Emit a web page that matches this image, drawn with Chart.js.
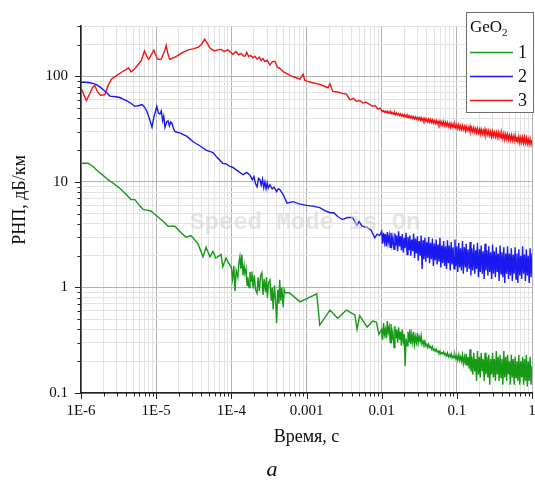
<!DOCTYPE html>
<html lang="ru">
<head>
<meta charset="UTF-8">
<title>РНП GeO2</title>
<script src="https://cdn.jsdelivr.net/npm/chart.js@4.4.0/dist/chart.umd.min.js"></script>
<style>
  html, body { margin: 0; padding: 0; background: #fff; }
  #wrap { position: relative; width: 535px; height: 486px; }
</style>
</head>
<body>
<div id="wrap"><canvas id="chart" width="535" height="486"></canvas></div>
<script>
// Время, с — две перемежающиеся сетки для шумных "хвостов" (0.01 ... 1 с):
// в точках tailTimes берутся верхние выбросы, в tailTimesMid — нижние
const tailTimes = [
  0.0100, 0.0106, 0.0112, 0.0119, 0.0126, 0.0133, 0.0141, 0.0150, 0.0158, 0.0168,
  0.0178, 0.0188, 0.0200, 0.0211, 0.0224, 0.0237, 0.0251, 0.0266, 0.0282, 0.0299,
  0.0316, 0.0335, 0.0355, 0.0376, 0.0398, 0.0422, 0.0447, 0.0473, 0.0501, 0.0531,
  0.0562, 0.0596, 0.0631, 0.0668, 0.0708, 0.0750, 0.0794, 0.0841, 0.0891, 0.0944,
  0.100, 0.106, 0.112, 0.119, 0.126, 0.133, 0.141, 0.150, 0.158, 0.168,
  0.178, 0.188, 0.200, 0.211, 0.224, 0.237, 0.251, 0.266, 0.282, 0.299,
  0.316, 0.335, 0.355, 0.376, 0.398, 0.422, 0.447, 0.473, 0.501, 0.531,
  0.562, 0.596, 0.631, 0.668, 0.708, 0.750, 0.794, 0.841, 0.891, 0.944,
  1.00
];
const tailTimesMid = [
  0.0103, 0.0109, 0.0115, 0.0122, 0.0130, 0.0137, 0.0146, 0.0154, 0.0163, 0.0173,
  0.0183, 0.0194, 0.0205, 0.0218, 0.0231, 0.0244, 0.0259, 0.0274, 0.0290, 0.0307,
  0.0326, 0.0345, 0.0365, 0.0387, 0.0410, 0.0434, 0.0460, 0.0487, 0.0516, 0.0547,
  0.0579, 0.0613, 0.0649, 0.0688, 0.0729, 0.0772, 0.0818, 0.0866, 0.0917, 0.0972,
  0.103, 0.109, 0.115, 0.122, 0.130, 0.137, 0.146, 0.154, 0.163, 0.173,
  0.183, 0.194, 0.205, 0.218, 0.231, 0.244, 0.259, 0.274, 0.290, 0.307,
  0.326, 0.345, 0.365, 0.387, 0.410, 0.434, 0.460, 0.487, 0.516, 0.547,
  0.579, 0.613, 0.649, 0.688, 0.729, 0.772, 0.818, 0.866, 0.917, 0.972
];

// Кривая 1 (зелёная), до 0.01 с
const greenTimes = [
  1.0e-6, 1.24e-6, 1.45e-6, 1.68e-6, 1.95e-6, 2.29e-6, 2.8e-6, 3.4e-6, 4.0e-6, 4.6e-6,
  5.2e-6, 6.1e-6, 6.7e-6, 7.5e-6, 8.5e-6, 1.0e-5, 1.16e-5, 1.3e-5, 1.44e-5, 1.6e-5,
  1.78e-5, 2.14e-5, 2.5e-5, 2.9e-5, 3.6e-5, 4.2e-5, 4.6e-5, 5.2e-5, 5.7e-5, 6.2e-5,
  7.3e-5, 7.7e-5, 8.5e-5, 9.2e-5,
  1.00e-4, 1.04e-4, 1.08e-4, 1.12e-4, 1.16e-4, 1.22e-4, 1.26e-4, 1.30e-4, 1.34e-4, 1.38e-4,
  1.43e-4, 1.48e-4, 1.52e-4, 1.57e-4, 1.62e-4, 1.66e-4, 1.72e-4, 1.77e-4, 1.83e-4, 1.88e-4,
  1.95e-4, 2.02e-4, 2.10e-4, 2.20e-4, 2.27e-4, 2.36e-4, 2.45e-4, 2.55e-4, 2.64e-4, 2.73e-4,
  2.85e-4, 2.93e-4, 3.02e-4, 3.12e-4, 3.26e-4, 3.40e-4, 3.50e-4, 3.60e-4, 3.75e-4, 3.90e-4,
  4.00e-4, 4.15e-4, 4.30e-4, 4.40e-4, 4.55e-4, 4.70e-4, 4.90e-4, 5.05e-4, 5.20e-4,
  5.9e-4, 8.2e-4, 1.37e-3, 1.5e-3, 2.05e-3, 2.6e-3, 3.4e-3, 4.4e-3, 4.7e-3, 5.1e-3,
  6.4e-3, 7.6e-3, 8.5e-3, 9.2e-3
];
const greenValues = [
  15, 15, 14, 12.6, 11.6, 10.5, 9.5, 8.5, 7.6, 6.8,
  6.8, 5.9, 5.5, 5.4, 5.3, 4.8, 4.4, 4.1, 3.8, 3.8,
  3.8, 3.3, 3.0, 3.1, 2.6, 1.95, 2.4, 1.95, 2.2, 1.9,
  2.05, 1.57, 1.9, 1.7,
  1.55, 1.2, 1.6, 0.92, 1.45, 1.25, 1.7, 1.95, 1.5, 2.05,
  1.3, 1.6, 1.35, 1.5, 1.05, 1.25, 1.0, 1.4, 1.15, 1.42,
  0.98, 1.3, 0.95, 0.88, 1.25, 0.92, 1.3, 1.38, 0.85, 1.2,
  0.9, 1.25, 0.8, 1.1, 1.18, 0.75, 1.0, 0.62, 1.05, 0.7,
  0.46, 0.95, 0.7, 1.18, 0.75, 1.0, 0.65, 0.95, 0.89,
  0.89, 0.73, 0.87, 0.44, 0.61, 0.51, 0.61, 0.55, 0.40, 0.54,
  0.42, 0.48, 0.47, 0.36
];
const greenTailHigh = [
  0.40, 0.46, 0.40, 0.48, 0.42, 0.45, 0.38, 0.43, 0.40, 0.42,
  0.38, 0.40, 0.36, 0.33, 0.38, 0.40, 0.36, 0.38, 0.34, 0.37,
  0.34, 0.35, 0.31, 0.31, 0.29, 0.29, 0.275, 0.275, 0.26, 0.26,
  0.25, 0.25, 0.24, 0.245, 0.235, 0.24, 0.23, 0.235, 0.225, 0.23,
  0.225, 0.23, 0.22, 0.23, 0.22, 0.235, 0.22, 0.26, 0.22, 0.24,
  0.21, 0.25, 0.22, 0.24, 0.21, 0.24, 0.22, 0.23, 0.21, 0.24,
  0.21, 0.25, 0.22, 0.23, 0.21, 0.25, 0.22, 0.23, 0.20, 0.23,
  0.21, 0.22, 0.20, 0.23, 0.20, 0.22, 0.21, 0.23, 0.20, 0.22,
  0.18
];
const greenTailLow = [
  0.32, 0.36, 0.33, 0.37, 0.30, 0.33, 0.27, 0.33, 0.30, 0.32,
  0.28, 0.31, 0.18, 0.28, 0.30, 0.29, 0.30, 0.29, 0.30, 0.30,
  0.31, 0.29, 0.29, 0.28, 0.27, 0.27, 0.26, 0.255, 0.25, 0.245,
  0.24, 0.235, 0.235, 0.23, 0.225, 0.22, 0.22, 0.215, 0.215, 0.21,
  0.205, 0.205, 0.20, 0.19, 0.185, 0.18, 0.17, 0.16, 0.15, 0.16,
  0.13, 0.15, 0.14, 0.16, 0.13, 0.15, 0.14, 0.12, 0.15, 0.14,
  0.13, 0.15, 0.13, 0.14, 0.12, 0.14, 0.13, 0.15, 0.12, 0.14,
  0.12, 0.14, 0.13, 0.12, 0.14, 0.12, 0.13, 0.115, 0.13, 0.12
];

// Кривая 2 (синяя), до 0.01 с
const blueTimes = [
  1.0e-6, 1.15e-6, 1.32e-6, 1.5e-6, 1.63e-6, 1.8e-6, 1.96e-6, 2.2e-6, 2.43e-6, 2.9e-6,
  3.3e-6, 3.8e-6, 4.2e-6, 4.7e-6, 5.2e-6, 5.9e-6, 6.5e-6, 7.0e-6, 7.5e-6, 8.1e-6,
  8.8e-6, 9.4e-6, 1.02e-5, 1.07e-5, 1.12e-5, 1.17e-5, 1.22e-5, 1.26e-5, 1.31e-5, 1.38e-5,
  1.44e-5, 1.5e-5, 1.56e-5, 1.62e-5, 1.7e-5, 1.78e-5, 2.1e-5, 2.57e-5, 3.1e-5, 3.8e-5,
  4.6e-5, 5.7e-5, 6.5e-5, 7.7e-5, 8.5e-5, 9.6e-5,
  1.05e-4, 1.2e-4, 1.43e-4, 1.6e-4, 1.77e-4, 1.9e-4, 2.0e-4, 2.1e-4, 2.2e-4, 2.3e-4,
  2.4e-4, 2.5e-4, 2.6e-4, 2.7e-4, 2.8e-4, 2.9e-4, 3.0e-4, 3.1e-4, 3.26e-4, 3.5e-4,
  3.7e-4, 4.0e-4, 4.2e-4, 4.4e-4, 4.9e-4, 5.5e-4, 6.6e-4, 8.0e-4, 1.0e-3, 1.2e-3,
  1.5e-3, 1.8e-3, 2.05e-3, 2.3e-3, 2.6e-3, 3.0e-3, 3.5e-3, 4.1e-3, 4.4e-3, 4.7e-3,
  5.0e-3, 5.5e-3, 6.4e-3, 7.2e-3, 8.1e-3, 8.7e-3, 9.4e-3
];
const blueValues = [
  88, 88, 87, 85, 83, 79, 75, 70, 65, 64,
  63, 60, 58, 55, 52, 53, 54, 51, 47, 40,
  33, 42, 52, 45, 44, 47, 38, 42, 33, 37,
  38, 34, 37, 36, 32, 30, 29, 27, 24, 22,
  20, 19, 17, 15, 14.8, 14,
  13.7, 12.8, 11.7, 12.3, 11.6, 10.5, 11.2, 9.6, 9.0, 10.8,
  10.5, 9.3, 10.6, 8.8, 10.0, 8.6, 9.8, 8.7, 9.4, 8.6,
  8.9, 8.1, 8.6, 8.5, 7.6, 6.3, 6.5, 6.2, 6.0, 5.9,
  5.7, 5.3, 5.1, 5.1, 4.7, 4.4, 4.6, 4.6, 4.2, 3.9,
  4.2, 3.8, 3.7, 3.5, 2.95, 3.2, 3.1
];
const blueTailHigh = [
  3.4, 3.3, 3.2, 3.35, 3.1, 3.3, 3.0, 3.25, 3.1, 3.4,
  3.05, 3.2, 2.95, 3.3, 3.0, 3.1, 2.85, 3.25, 2.9, 3.05,
  2.75, 3.1, 2.8, 2.95, 2.7, 3.0, 2.65, 2.9, 2.6, 2.85,
  2.55, 2.95, 2.5, 2.75, 2.45, 2.8, 2.5, 2.7, 2.4, 2.85,
  2.45, 2.65, 2.35, 2.75, 2.4, 2.6, 2.3, 2.7, 2.35, 2.55,
  2.25, 2.65, 2.3, 2.5, 2.2, 2.6, 2.25, 2.45, 2.15, 2.55,
  2.2, 2.4, 2.1, 2.5, 2.15, 2.4, 2.1, 2.45, 2.1, 2.35,
  2.05, 2.4, 2.1, 2.3, 2.0, 2.45, 2.05, 2.3, 2.0, 2.35,
  2.1
];
const blueTailLow = [
  2.6, 2.7, 2.45, 2.65, 2.4, 2.55, 2.3, 2.5, 2.2, 2.45,
  2.25, 2.15, 2.35, 2.05, 2.25, 2.0, 2.2, 1.9, 2.1, 1.8,
  2.0, 1.5, 1.85, 1.75, 1.9, 1.7, 1.85, 1.6, 1.8, 1.65,
  1.75, 1.55, 1.7, 1.6, 1.5, 1.7, 1.45, 1.65, 1.5, 1.6,
  1.4, 1.55, 1.45, 1.35, 1.55, 1.4, 1.5, 1.3, 1.45, 1.35,
  1.5, 1.25, 1.4, 1.35, 1.2, 1.45, 1.3, 1.4, 1.2, 1.35,
  1.25, 1.4, 1.15, 1.35, 1.25, 1.1, 1.35, 1.2, 1.3, 1.15,
  1.35, 1.2, 1.1, 1.3, 1.2, 1.35, 1.15, 1.3, 1.1, 1.25
];

// Кривая 3 (красная), до 0.01 с
const redTimes = [
  1.0e-6, 1.1e-6, 1.18e-6, 1.3e-6, 1.42e-6, 1.52e-6, 1.65e-6, 1.83e-6, 2.07e-6, 2.3e-6,
  2.53e-6, 3.1e-6, 3.5e-6, 3.96e-6, 4.3e-6, 4.66e-6, 5.4e-6, 6.3e-6, 7.0e-6, 7.5e-6,
  7.95e-6, 8.6e-6, 9.3e-6, 1.0e-5, 1.06e-5, 1.17e-5, 1.3e-5, 1.36e-5, 1.43e-5, 1.51e-5,
  1.7e-5, 1.95e-5, 2.3e-5, 2.65e-5, 3.1e-5, 3.6e-5, 4.0e-5, 4.4e-5, 4.8e-5, 5.1e-5,
  5.5e-5, 6.0e-5, 6.6e-5, 7.3e-5, 8.0e-5, 9.0e-5,
  1.05e-4, 1.15e-4, 1.25e-4, 1.35e-4, 1.45e-4, 1.52e-4, 1.6e-4, 1.7e-4, 1.8e-4, 1.94e-4,
  2.05e-4, 2.2e-4, 2.35e-4, 2.5e-4, 2.63e-4, 2.8e-4, 3.0e-4, 3.26e-4, 3.5e-4, 3.8e-4,
  4.1e-4, 4.5e-4, 4.9e-4, 5.5e-4, 6.2e-4, 7.0e-4, 8.2e-4, 9.0e-4, 9.5e-4, 1.01e-3,
  1.2e-3, 1.5e-3, 1.7e-3, 1.93e-3, 2.05e-3, 2.24e-3, 2.6e-3, 3.0e-3, 3.4e-3, 3.8e-3,
  4.2e-3, 4.6e-3, 5.1e-3, 5.6e-3, 6.2e-3, 7.0e-3, 7.6e-3, 8.2e-3, 8.9e-3, 9.5e-3
];
const redValues = [
  78, 66, 59, 68, 78, 82, 72, 66, 67, 82,
  94, 104, 110, 116, 120, 110, 122, 140, 174, 155,
  145, 160, 177, 155, 145, 146, 175, 196, 165, 145,
  150, 158, 170, 178, 182, 188, 200, 225, 205, 188,
  180, 174, 178, 180, 172, 178,
  162, 172, 160, 165, 156, 155, 169, 154, 158, 150,
  155, 146, 152, 141, 148, 138, 142, 128, 137, 139,
  122, 118, 111, 106, 101, 98, 94, 105, 92, 90,
  87, 84, 81, 78, 85, 72, 71, 69, 68, 60,
  62, 58, 59, 56, 57, 54, 52, 53, 49, 50
];
const redTailHigh = [
  47.5, 47.4, 46.8, 46.7, 46.2, 46.0, 45.4, 45.3, 44.7, 44.4,
  44.1, 43.6, 43.4, 43.0, 42.6, 42.4, 41.9, 41.6, 41.3, 40.9,
  40.7, 40.6, 40.0, 40.0, 39.4, 39.4, 38.9, 38.8, 38.3, 38.2,
  37.6, 37.6, 37.0, 37.4, 36.5, 36.4, 35.8, 35.8, 35.3, 35.2,
  34.8, 34.7, 34.1, 34.2, 33.6, 33.6, 33.1, 33.6, 32.6, 32.6,
  31.9, 32.1, 31.5, 31.6, 30.9, 31.5, 30.5, 30.6, 30.0, 30.1,
  29.5, 29.6, 29.5, 29.1, 28.6, 28.7, 28.2, 28.2, 27.7, 27.8,
  27.2, 27.7, 26.8, 26.9, 26.4, 26.5, 26.4, 26.1, 25.5, 25.6,
  25.0
];
const redTailLow = [
  46.3, 45.8, 45.4, 44.9, 44.6, 44.1, 43.8, 43.3, 43.0, 42.5,
  42.1, 41.7, 41.4, 41.0, 40.7, 40.3, 40.0, 39.6, 39.3, 38.9,
  38.4, 38.1, 37.8, 37.4, 37.1, 36.8, 36.5, 36.2, 35.8, 35.5,
  35.1, 34.8, 34.5, 34.2, 33.9, 33.6, 32.9, 33.0, 32.8, 32.5,
  32.0, 31.7, 31.4, 31.2, 30.5, 30.6, 30.4, 30.1, 29.8, 29.6,
  29.2, 29.0, 28.3, 28.5, 28.2, 28.0, 27.7, 27.5, 26.8, 27.0,
  26.7, 26.5, 26.2, 26.0, 25.8, 25.2, 25.3, 25.1, 24.9, 24.7,
  24.4, 24.2, 24.0, 23.4, 23.6, 23.4, 23.2, 23.0, 22.8, 22.6
];

const seriesNames = ['1', '2', '3'];
const seriesColors = ['#169a16', '#1a1af0', '#f01414'];
const legendTitle = 'GeO';
const legendTitleSub = '2';

// подписи осей
const xDecades = [1e-6, 1e-5, 1e-4, 1e-3, 1e-2, 1e-1, 1];
const xTickLabels = ['1E-6', '1E-5', '1E-4', '0.001', '0.01', '0.1', '1'];
const yDecades = [0.1, 1, 10, 100];
const yTickLabels = ['0.1', '1', '10', '100'];
const xTitle = 'Время, с';
const yTitle = 'РНП, дБ/км';
const panelLetter = 'a';
const watermark = 'Speed Mode is On';

function pairs(times, values) {
  const n = Math.min(times.length, values.length);
  const out = [];
  for (let i = 0; i < n; i++) out.push({ x: times[i], y: values[i] });
  return out;
}

// голова кривой + шумный хвост из верхних и нижних выбросов, по порядку времени
function series(times, values, high, low) {
  const tail = pairs(tailTimes, high).concat(pairs(tailTimesMid, low));
  tail.sort((a, b) => a.x - b.x);
  return pairs(times, values).concat(tail);
}

function isDecade(v) {
  const e = Math.log10(v);
  return Math.abs(e - Math.round(e)) < 1e-6;
}

function decadeLabel(v, decades, labels) {
  for (let i = 0; i < decades.length; i++) {
    if (Math.abs(Math.log10(v) - Math.log10(decades[i])) < 1e-6) return labels[i];
  }
  return '';
}

// оставляем только 1..9 × 10^n
function keepIntegerMantissa(scale) {
  scale.ticks = scale.ticks.filter(t => {
    const m = t.value / Math.pow(10, Math.floor(Math.log10(t.value) + 1e-9));
    return Math.abs(m - Math.round(m)) < 1e-6;
  });
}

const serif = '"Liberation Serif", "Times New Roman", serif';
const ink = '#0d0d0d';

const decor = {
  id: 'decor',
  afterDatasetsDraw(chart) {
    const ctx = chart.ctx;
    ctx.save();
    ctx.font = 'bold 24px "Liberation Mono", monospace';
    ctx.fillStyle = 'rgba(212, 212, 212, 0.6)';
    ctx.textBaseline = 'middle';
    ctx.fillText(watermark, 190, 223);
    ctx.restore();
  },
  afterDraw(chart) {
    const { ctx, scales: { x, y } } = chart;
    ctx.save();

    // засечки на осях
    ctx.strokeStyle = '#222';
    ctx.lineWidth = 1;
    x.ticks.forEach(t => {
      const px = Math.round(x.getPixelForValue(t.value)) + 0.5;
      const len = isDecade(t.value) ? 6 : 3.5;
      ctx.beginPath();
      ctx.moveTo(px, y.bottom);
      ctx.lineTo(px, y.bottom + len);
      ctx.stroke();
    });
    y.ticks.forEach(t => {
      const py = Math.round(y.getPixelForValue(t.value)) + 0.5;
      const len = isDecade(t.value) ? 6 : 3.5;
      ctx.beginPath();
      ctx.moveTo(x.left, py);
      ctx.lineTo(x.left - len, py);
      ctx.stroke();
    });

    // подпись оси Y
    ctx.fillStyle = ink;
    ctx.font = '18px ' + serif;
    ctx.textAlign = 'center';
    ctx.textBaseline = 'middle';
    ctx.save();
    ctx.translate(20, 200);
    ctx.rotate(-Math.PI / 2);
    ctx.fillText(yTitle, 0, 0);
    ctx.restore();

    // буква панели
    ctx.font = 'italic 22px ' + serif;
    ctx.fillText(panelLetter, 272, 470);

    // легенда
    const bx = 466.5, by = 12.5, bw = 67, bh = 100;
    ctx.fillStyle = '#fff';
    ctx.fillRect(bx, by, bw, bh);
    ctx.strokeStyle = '#6e6e6e';
    ctx.lineWidth = 1;
    ctx.strokeRect(bx, by, bw, bh);

    ctx.fillStyle = ink;
    ctx.textAlign = 'left';
    ctx.textBaseline = 'alphabetic';
    ctx.font = '17px ' + serif;
    ctx.fillText(legendTitle, 470, 32);
    const w = ctx.measureText(legendTitle).width;
    ctx.font = '11px ' + serif;
    ctx.fillText(legendTitleSub, 470 + w, 36);

    ctx.font = '18px ' + serif;
    ctx.textBaseline = 'middle';
    chart.data.datasets.forEach((ds, i) => {
      const ly = 52.5 + i * 24;
      ctx.strokeStyle = ds.borderColor;
      ctx.lineWidth = 1.5;
      ctx.beginPath();
      ctx.moveTo(470, ly);
      ctx.lineTo(513, ly);
      ctx.stroke();
      ctx.fillStyle = ink;
      ctx.fillText(ds.label, 518, ly + 1);
    });

    ctx.restore();
  }
};

const gridColor = ctx => (ctx.tick && isDecade(ctx.tick.value)) ? '#b2b2b2' : '#e3e3e3';

new Chart(document.getElementById('chart'), {
  type: 'line',
  data: {
    datasets: [
      {
        label: seriesNames[0],
        data: series(greenTimes, greenValues, greenTailHigh, greenTailLow),
        borderColor: seriesColors[0]
      },
      {
        label: seriesNames[1],
        data: series(blueTimes, blueValues, blueTailHigh, blueTailLow),
        borderColor: seriesColors[1]
      },
      {
        label: seriesNames[2],
        data: series(redTimes, redValues, redTailHigh, redTailLow),
        borderColor: seriesColors[2]
      }
    ].map(ds => Object.assign(ds, {
      backgroundColor: ds.borderColor,
      borderWidth: 1.4,
      pointRadius: 0,
      tension: 0,
      fill: false
    }))
  },
  options: {
    responsive: false,
    animation: false,
    devicePixelRatio: 1,
    layout: { padding: { top: 26, right: 3, left: 0, bottom: 0 } },
    plugins: {
      legend: { display: false },
      tooltip: { enabled: false }
    },
    scales: {
      x: {
        type: 'logarithmic',
        min: 1e-6,
        max: 1,
        afterBuildTicks: keepIntegerMantissa,
        afterFit: s => { s.height = 93; s.paddingLeft = 0; s.paddingRight = 0; },
        border: { display: true, color: '#222', width: 1.5 },
        grid: { color: gridColor, lineWidth: 1, drawTicks: false },
        ticks: {
          autoSkip: false,
          maxRotation: 0,
          padding: 9,
          color: ink,
          font: { family: serif, size: 15 },
          callback: v => decadeLabel(v, xDecades, xTickLabels)
        },
        title: {
          display: true,
          text: xTitle,
          color: ink,
          font: { family: serif, size: 18 },
          padding: { top: 0, bottom: 38 }
        }
      },
      y: {
        type: 'logarithmic',
        min: 0.1,
        max: 300,
        afterBuildTicks: keepIntegerMantissa,
        afterFit: s => { s.width = 81; s.paddingTop = 0; s.paddingBottom = 0; },
        border: { display: true, color: '#222', width: 1.5 },
        grid: { color: gridColor, lineWidth: 1, drawTicks: false },
        ticks: {
          autoSkip: false,
          padding: 13,
          color: ink,
          font: { family: serif, size: 15 },
          callback: v => decadeLabel(v, yDecades, yTickLabels)
        }
      }
    }
  },
  plugins: [decor]
});
</script>
</body>
</html>
